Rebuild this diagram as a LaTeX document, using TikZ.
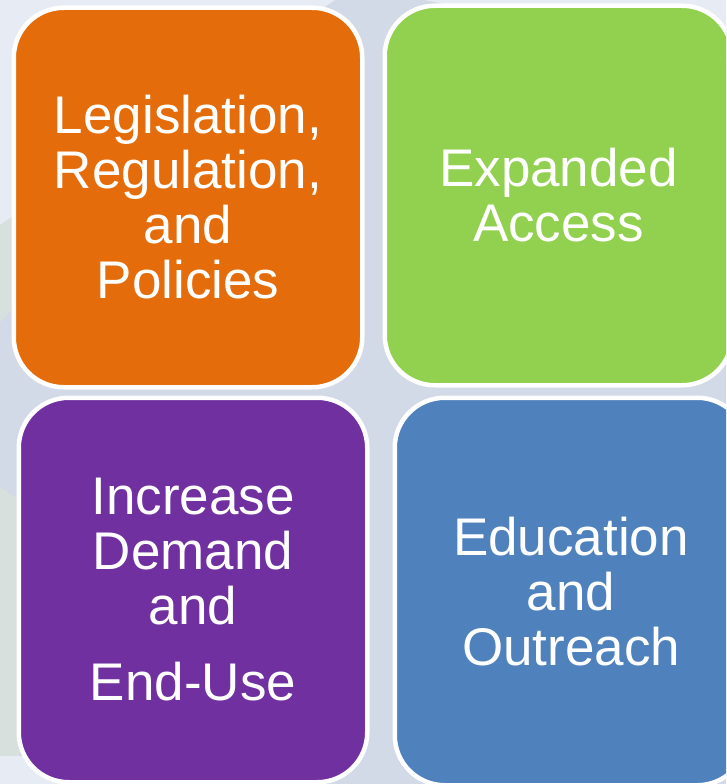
\documentclass[tikz,border=0pt]{standalone}
\usepackage{fontspec}
\setmainfont{Liberation Sans}
\usetikzlibrary{shapes}
\usetikzlibrary{positioning}

\definecolor{bgbase}{HTML}{D2D9E7}
\definecolor{bglight}{HTML}{E7ECF4}
\definecolor{bggrey}{HTML}{D8E0DD}
\definecolor{legisorange}{HTML}{E46C0A}
\definecolor{accessgreen}{HTML}{92D050}
\definecolor{demandpurple}{HTML}{7030A0}
\definecolor{outreachblue}{HTML}{4F81BD}

\begin{document}
\begin{tikzpicture}[x=1pt,y=-1pt]
		\useasboundingbox (0,0) rectangle (726,784);
		\clip (0,0) rectangle (726,784);
		% background
		\fill[bgbase] (0,0) rectangle (726,784);
		\fill[bglight] (0,0) -- (335,0) -- (0,225) -- cycle;
		\fill[bglight] (425,0) -- (726,0) -- (726,60) -- cycle;
		\fill[bggrey] (0,225) -- (20,212) -- (20,760) -- (0,760) -- cycle;
		\fill[bgbase] (0,323) -- (20,300) -- (20,500) -- (0,487) -- cycle;
		\fill[bglight] (0,756) rectangle (60,784);
		% boxes
		\tikzstyle{every node}=[rectangle, rounded corners=50pt, draw=white, line width=4.5pt,
			text=white, align=center, inner sep=0pt, font=\fontsize{53}{55}\selectfont];
		\path (188,197.5) node[fill=legisorange, minimum width=348.5pt, minimum height=379.5pt] (legis)
			{Legislation,\\Regulation,\\and\\Policies};
		\path (558.5,195.5) node[fill=accessgreen, minimum width=347.5pt, minimum height=379.5pt] (access)
			{Expanded\\Access};
		\path (193,590) node[fill=demandpurple, minimum width=348.5pt, minimum height=384.5pt] (demand)
			{Increase\\Demand\\and\\[21pt]End-Use};
		\path (571,591.5) node[fill=outreachblue, minimum width=352.5pt, minimum height=387.5pt] (outreach)
			{Education\\and\\Outreach};
		\end{tikzpicture}
\end{document}
